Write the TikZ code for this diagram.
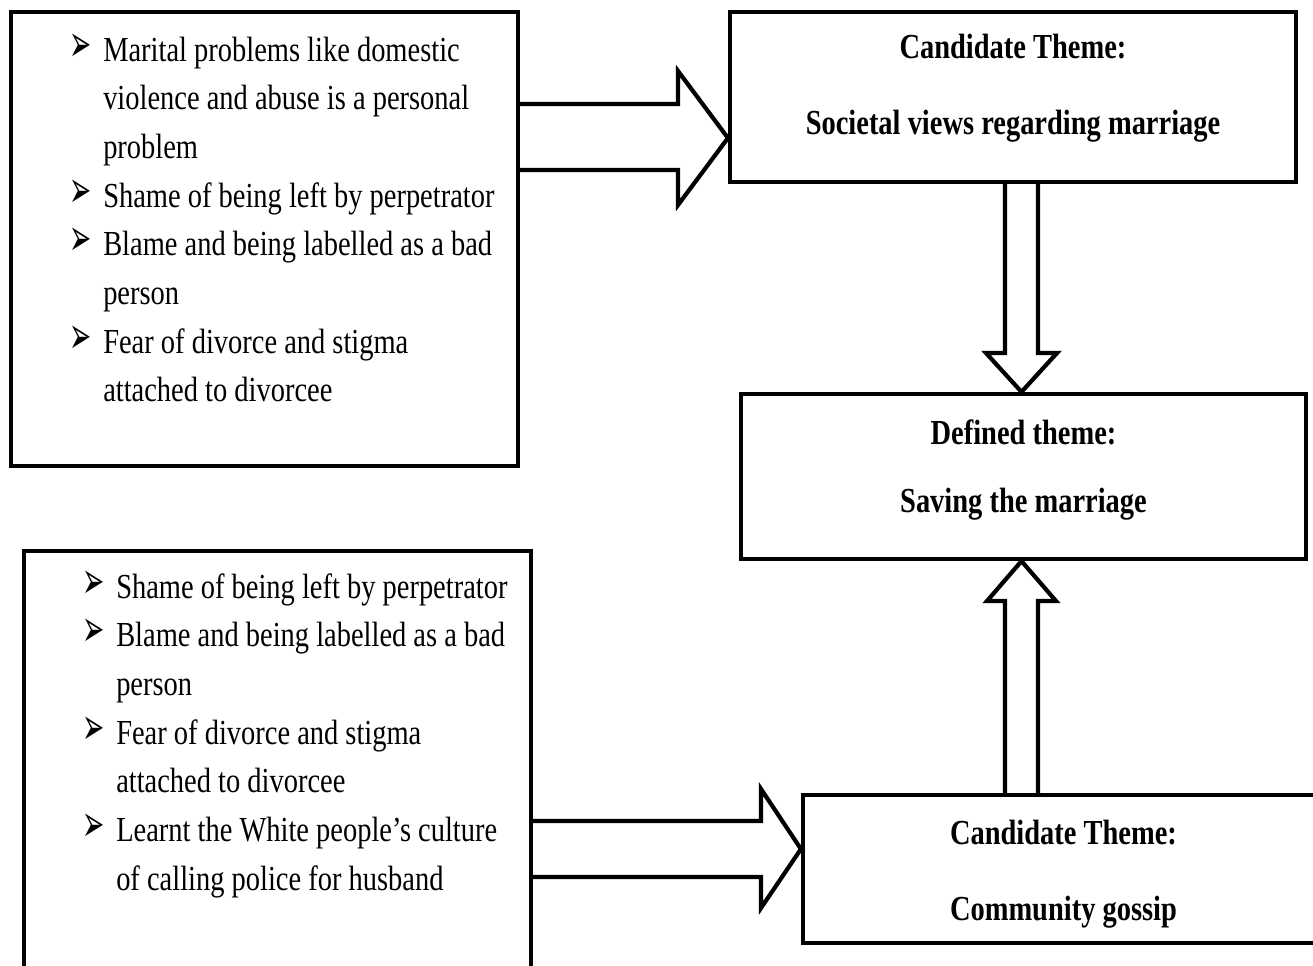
\documentclass[tikz,border=0pt]{standalone}
\usepackage{fontspec}
\setmainfont{Liberation Serif}[FakeStretch=0.81]
\newfontfamily\bulletfont{DejaVu Sans}
\usepackage{tikz}
\newcommand{\pointer}{\scalebox{0.72}[1.4]{\bulletfont\fontsize{21}{21}\selectfont ➢}}

\begin{document}
\begin{tikzpicture}[
    x=0.02cm, y=-0.02cm,
    box/.style={draw, line width=2.4pt, rectangle, inner sep=0pt},
    hollow/.style={draw, line width=2.4pt},
    bullets/.style={anchor=base west, inner sep=0pt, font=\fontsize{20}{27.7}\selectfont},
    theme/.style={anchor=base, inner sep=0pt, font=\fontsize{20}{27.7}\selectfont\bfseries}
]
    \useasboundingbox (0,0) rectangle (1313,965);

    % Boxes
    \node[box, minimum width=10.14cm, minimum height=9.08cm] (causesA) at (264.5,239) {};
    \node[box, minimum width=11.32cm, minimum height=3.4cm] (societal) at (1013,97) {};
    \node[box, minimum width=11.3cm, minimum height=3.3cm] (defined) at (1023.5,476.5) {};
    \node[box, minimum width=10.14cm, minimum height=9.08cm] (causesB) at (277.5,778) {};
    \node[box, minimum width=10.42cm, minimum height=2.96cm] (gossip) at (1063.5,869) {};

    % Lists of causes
    \node[bullets] (listA) at (69,61) {\begin{tabular}[t]{@{}p{19.3pt}@{}l@{}}
        \pointer & Marital problems like domestic\\
                 & violence and abuse is a personal\\
                 & problem\\
        \pointer & Shame of being left by perpetrator\\
        \pointer & Blame and being labelled as a bad\\
                 & person\\
        \pointer & Fear of divorce and stigma\\
                 & attached to divorcee
    \end{tabular}};
    \node[bullets] (listB) at (82,598) {\begin{tabular}[t]{@{}p{19.3pt}@{}l@{}}
        \pointer & Shame of being left by perpetrator\\
        \pointer & Blame and being labelled as a bad\\
                 & person\\
        \pointer & Fear of divorce and stigma\\
                 & attached to divorcee\\
        \pointer & Learnt the White people’s culture\\
                 & of calling police for husband
    \end{tabular}};

    % Themes
    \node[theme] (societalText) at (1013,58) {\begin{tabular}[t]{@{}c@{}}
        Candidate Theme:\\[16pt] Societal views regarding marriage\end{tabular}};
    \node[theme] (definedText) at (1023.5,444) {\begin{tabular}[t]{@{}c@{}}
        Defined theme:\\[11pt] Saving the marriage\end{tabular}};
    \node[theme] (gossipText) at (1063.5,844) {\begin{tabular}[t]{@{}c@{}}
        Candidate Theme:\\[16pt] Community gossip\end{tabular}};

    % Block arrows
    \draw[hollow] (causesA.east |- 0,104) -- (678,104) -- (678,71) -- (societal.west |- 0,138)
        -- (678,205) -- (678,170) -- (causesA.east |- 0,170);
    \draw[hollow] (societal.south -| 1005,0) -- (1005,353) -- (986,353) -- (defined.north -| 1021.5,0)
        -- (1057,353) -- (1038,353) -- (societal.south -| 1038,0);
    \draw[hollow] (gossip.north -| 1005,0) -- (1005,601) -- (987,601) -- (defined.south -| 1021.5,0)
        -- (1056,601) -- (1038,601) -- (gossip.north -| 1038,0);
    \draw[hollow] (causesB.east |- 0,821) -- (761,821) -- (761,789) -- (gossip.west |- 0,849)
        -- (761,908) -- (761,877) -- (causesB.east |- 0,877);

\end{tikzpicture}
\end{document}
